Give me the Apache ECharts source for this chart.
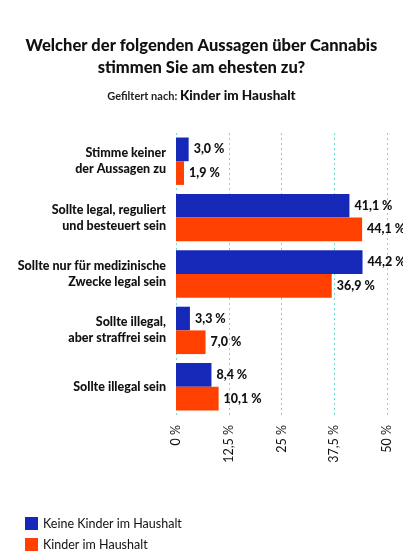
<!DOCTYPE html>
<html><head><meta charset="utf-8">
<script src="https://cdn.jsdelivr.net/npm/echarts@6/dist/echarts.min.js"></script>
<style>html,body{margin:0;padding:0;background:#fff}#c{width:403px;height:560px}</style>
</head><body><div id="c"></div>
<script>
const categories = [
  "Stimme keiner\nder Aussagen zu",
  "Sollte legal, reguliert\nund besteuert sein",
  "Sollte nur für medizinische\nZwecke legal sein",
  "Sollte illegal,\naber straffrei sein",
  "Sollte illegal sein"
];
const keineKinder = [3.0, 41.1, 44.2, 3.3, 8.4];
const kinder = [1.9, 44.1, 36.9, 7.0, 10.1];
const seriesNames = ["Keine Kinder im Haushalt", "Kinder im Haushalt"];
const tickValues = [0, 12.5, 25, 37.5, 50];

const fmt = v => v.toFixed(1).replace('.', ',') + ' %';
const tickFmt = v => String(v).replace('.', ',') + ' %';
const font = 'Lato, "Open Sans", sans-serif';

const chart = echarts.init(document.getElementById('c'));
chart.setOption({
  animation: false,
  textStyle: {fontFamily: font},
  title: [{
    text: 'Welcher der folgenden Aussagen über Cannabis\nstimmen Sie am ehesten zu?',
    left: 'center', top: 30,
    textStyle: {fontSize: 16.5, fontWeight: 900, color: '#111', lineHeight: 22, fontFamily: font}
  }, {
    text: '{a|Gefiltert nach: }{b|Kinder im Haushalt}',
    left: 'center', top: 84,
    textStyle: {rich: {
      a: {fontSize: 11, color: '#222', fontFamily: font},
      b: {fontSize: 13.5, fontWeight: 900, color: '#111', fontFamily: font}
    }}
  }],
  legend: {
    orient: 'vertical', left: 20, top: 512, itemWidth: 13, itemHeight: 13, itemGap: 8,
    icon: 'rect',
    textStyle: {fontSize: 12.5, color: '#111', fontFamily: font},
    data: seriesNames
  },
  grid: {left: 176, right: 16, top: 133, bottom: 145},
  xAxis: {
    type: 'value', min: 0, max: 50, interval: 12.5,
    axisLine: {show: false}, axisTick: {show: false},
    axisLabel: {rotate: 90, formatter: tickFmt, fontSize: 12.5, color: '#111', margin: 10},
    splitLine: {lineStyle: {type: [2, 3], color: '#6fe0cf', width: 1}}
  },
  yAxis: {
    type: 'category', data: categories, inverse: true,
    axisLine: {show: false}, axisTick: {show: false},
    axisLabel: {fontSize: 12.5, fontWeight: 900, color: '#111', lineHeight: 16, margin: 10, align: 'right'}
  },
  series: [{
    name: seriesNames[0], type: 'bar', data: keineKinder,
    itemStyle: {color: '#1528b8'}, barGap: '0%', barCategoryGap: '16%',
    label: {show: true, position: 'right', formatter: p => fmt(p.value), fontSize: 12.5, fontWeight: 900, color: '#111'}
  }, {
    name: seriesNames[1], type: 'bar', data: kinder,
    itemStyle: {color: '#ff4000'},
    label: {show: true, position: 'right', formatter: p => fmt(p.value), fontSize: 12.5, fontWeight: 900, color: '#111'}
  }]
});
</script></body></html>
